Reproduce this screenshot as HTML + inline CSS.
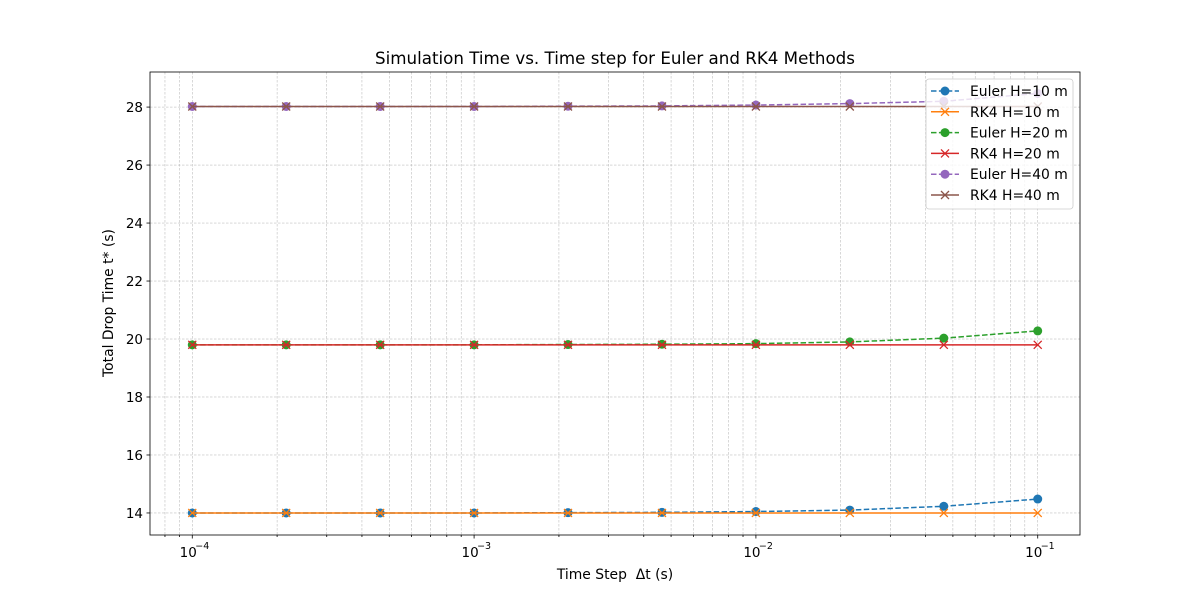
<!DOCTYPE html>
<html><head><meta charset="utf-8"><style>
body{margin:0;background:#fff;}
svg{font-family:"DejaVu Sans","Liberation Sans",sans-serif;}
</style></head><body>
<svg id="chart" width="1200" height="600" xmlns="http://www.w3.org/2000/svg">
<rect width="1200" height="600" fill="#fff"/>
<g id="grid"></g><g id="series"></g><g id="axes"></g><g id="legend"></g>
</svg>
<script>
const xValues=[1e-4,2.154e-4,4.642e-4,1e-3,2.154e-3,4.642e-3,1e-2,2.154e-2,4.642e-2,1e-1];
const eulerH10=[14.0,14.0,14.0,14.0,14.01,14.02,14.05,14.1,14.23,14.48];
const rk4H10=[14.0,14.0,14.0,14.0,14.0,14.0,14.0,14.0,14.0,14.0];
const eulerH20=[19.8,19.8,19.8,19.8,19.81,19.82,19.84,19.9,20.03,20.28];
const rk4H20=[19.8,19.8,19.8,19.8,19.8,19.8,19.8,19.8,19.8,19.8];
const eulerH40=[28.02,28.02,28.02,28.02,28.03,28.04,28.07,28.12,28.2,28.47];
const rk4H40=[28.02,28.02,28.02,28.02,28.02,28.02,28.02,28.02,28.02,28.02];
const yTicks=[14,16,18,20,22,24,26,28];
const xTickExps=[-4,-3,-2,-1];
const seriesNames=["Euler H=10 m","RK4 H=10 m","Euler H=20 m","RK4 H=20 m","Euler H=40 m","RK4 H=40 m"];
const seriesData=[eulerH10,rk4H10,eulerH20,rk4H20,eulerH40,rk4H40];
const colors=["#1f77b4","#ff7f0e","#2ca02c","#d62728","#9467bd","#8c564b"];
const L=150,R=1080,T=72,B=535;
const xmin=-4.15,xmax=-0.85,ymin=13.24,ymax=29.21;
const X=v=>L+(Math.log10(v)-xmin)/(xmax-xmin)*(R-L);
const Y=v=>B-(v-ymin)/(ymax-ymin)*(B-T);
const NS="http://www.w3.org/2000/svg";
function mk(p,tag,at,txt){const e=document.createElementNS(NS,tag);for(const k in at)e.setAttribute(k,at[k]);if(txt!==undefined)e.textContent=txt;p.appendChild(e);return e;}
const grid=document.getElementById('grid'),ser=document.getElementById('series'),ax=document.getElementById('axes'),lg=document.getElementById('legend');
for(let e=-5;e<=0;e++)for(let m=1;m<10;m++){const v=m*Math.pow(10,e);const x=X(v);if(x<L||x>R)continue;
 const g=mk(grid,'line',{x1:x,x2:x,y1:T,y2:B,stroke:'#b0b0b0','stroke-width':0.5,'stroke-dasharray':'2.5,1.5'});
 
 const t=mk(ax,'line',{x1:x,x2:x,y1:B,y2:B+(m==1?3.5:2),stroke:'#000','stroke-width':0.8});
 }
yTicks.forEach(v=>{const y=Y(v);
 const g=mk(grid,'line',{x1:L,x2:R,y1:y,y2:y,stroke:'#b0b0b0','stroke-width':0.5,'stroke-dasharray':'2.5,1.5'});
 
 mk(ax,'line',{x1:L-3.5,x2:L,y1:y,y2:y,stroke:'#000','stroke-width':0.8});
 const t=mk(ax,'text',{x:L-7,y:y+4.8,'text-anchor':'end','font-size':13.5},v);
 });
xTickExps.forEach(e=>{const x=X(Math.pow(10,e));
 const t=mk(ax,'text',{x:x-4,y:B+22,'text-anchor':'middle','font-size':13.5},'10');
 
 mk(ax,'text',{x:x+10,y:B+14,'text-anchor':'middle','font-size':9.5},'\u2212'+(-e));});
const fr=mk(ax,'rect',{x:L,y:T,width:R-L,height:B-T,fill:'none',stroke:'#000','stroke-width':0.8});

let t=mk(ax,'text',{x:615,y:64,'text-anchor':'middle','font-size':16.7},'Simulation Time vs. Time step for Euler and RK4 Methods');

t=mk(ax,'text',{x:615,y:579,'text-anchor':'middle','font-size':13.9,'xml:space':'preserve'},'Time Step  \u0394t (s)');
t.style.whiteSpace='pre';

t=mk(ax,'text',{x:113,y:303,'text-anchor':'middle','font-size':13.9,transform:'rotate(-90 113 303)'},'Total Drop Time t* (s)');

function marker(p,euler,x,y,c){if(euler){return mk(p,'circle',{cx:x,cy:y,r:4.5,fill:c});}
 return mk(p,'path',{d:`M${x-4},${y-4}L${x+4},${y+4}M${x-4},${y+4}L${x+4},${y-4}`,stroke:c,'stroke-width':1.3,fill:'none'});}
seriesData.forEach((d,i)=>{const euler=i%2==0,c=colors[i];
 const g=mk(ser,'g',{});
 mk(g,'polyline',{points:d.map((v,j)=>X(xValues[j])+','+Y(v)).join(' '),fill:'none',stroke:c,'stroke-width':1.5,'stroke-dasharray':euler?'5.5,2.4':''});
 d.forEach((v,j)=>{const m=marker(g,euler,X(xValues[j]),Y(v),c);});});
const lb=mk(lg,'rect',{x:926,y:79,width:147,height:130,rx:3,fill:'#fff','fill-opacity':0.8,stroke:'#ccc','stroke-width':0.8});

seriesNames.forEach((n,i)=>{const y=91+i*20.8,c=colors[i],euler=i%2==0;
 const g=mk(lg,'g',{});
 mk(g,'line',{x1:931,x2:959,y1:y,y2:y,stroke:c,'stroke-width':1.5,'stroke-dasharray':euler?'5.5,2.4':''});
 marker(g,euler,945,y,c);
 mk(g,'text',{x:970,y:y+5,'font-size':13.9},n);});
</script>
</body></html>
